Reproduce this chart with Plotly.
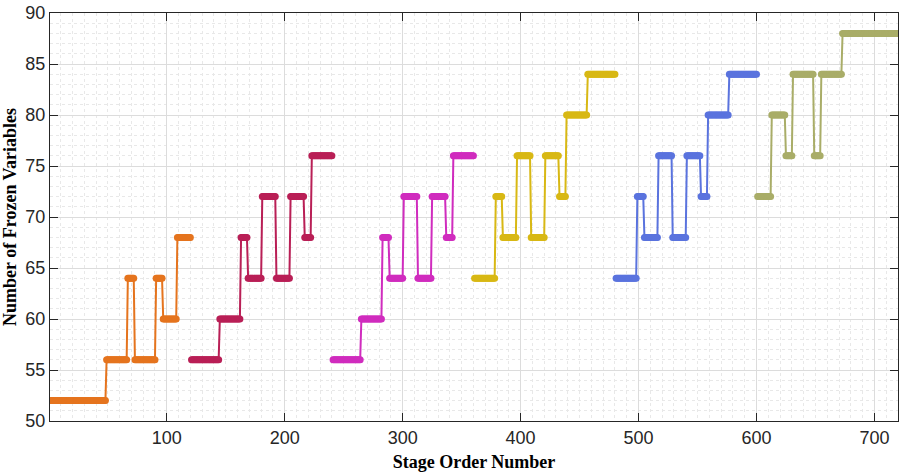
import numpy as np
import plotly.graph_objects as go

# Six groups of 120 stages each; every group is stored as runs of
# (number of stages, frozen-variable count).
group_colors = ["#E5741E", "#B91F56", "#D02CBE", "#D8B814", "#5A73DE", "#A9AD68"]

run_lengths = [
    [48, 18, 6, 18, 6, 12, 12],
    [24, 18, 6, 12, 12, 12, 12, 6, 18],
    [24, 18, 6, 12, 12, 12, 12, 6, 18],
    [18, 6, 12, 12, 12, 12, 6, 18, 24],
    [18, 6, 12, 12, 12, 12, 6, 18, 24],
    [12, 12, 6, 18, 6, 18, 48],
]
run_values = [
    [52, 56, 64, 56, 64, 60, 68],
    [56, 60, 68, 64, 72, 64, 72, 68, 76],
    [56, 60, 68, 64, 72, 64, 72, 68, 76],
    [64, 72, 68, 76, 68, 76, 72, 80, 84],
    [64, 72, 68, 76, 68, 76, 72, 80, 84],
    [72, 80, 76, 84, 76, 84, 88],
]

x_ticks = [100, 200, 300, 400, 500, 600, 700]
y_ticks = [50, 55, 60, 65, 70, 75, 80, 85, 90]

fig = go.Figure()
start = 1
for color, lengths, values in zip(group_colors, run_lengths, run_values):
    y = np.repeat(values, lengths)
    x = np.arange(start, start + len(y))
    start += len(y)
    fig.add_trace(go.Scatter(
        x=x, y=y, mode="lines+markers",
        line=dict(color=color, width=2),
        marker=dict(symbol="circle", size=7, color=color, line=dict(width=0)),
        showlegend=False, hoverinfo="x+y",
    ))

axis_common = dict(
    showline=True, linecolor="#262626", linewidth=1, mirror="ticks",
    ticks="inside", ticklen=8, tickwidth=1, tickcolor="#262626",
    showgrid=True, gridcolor="#dcdcdc", gridwidth=1, zeroline=False,
    ticklabeloverflow="allow",
    tickfont=dict(family="Liberation Sans, Arial, sans-serif", size=18, color="#262626"),
)

fig.update_xaxes(
    range=[1, 720], tickvals=x_ticks,
    minor=dict(dtick=10, tick0=0, showgrid=True, gridcolor="#e8e8e8", griddash="dot", gridwidth=1),
    title=dict(text="Stage Order Number", standoff=8,
               font=dict(family="Liberation Serif, Times New Roman, serif", size=18,
                         color="#000000", weight="bold")),
    **axis_common,
)
fig.update_yaxes(
    range=[50, 90], tickvals=y_ticks,
    minor=dict(dtick=1, tick0=50, showgrid=True, gridcolor="#e8e8e8", griddash="dot", gridwidth=1),
    title=dict(text="Number of Frozen Variables", standoff=5,
               font=dict(family="Liberation Serif, Times New Roman, serif", size=18,
                         color="#000000", weight="bold")),
    **axis_common,
)

fig.update_layout(
    width=902, height=475,
    margin=dict(l=50, r=3, t=9, b=54),
    paper_bgcolor="#ffffff", plot_bgcolor="#ffffff",
    showlegend=False,
)

fig.write_html("out.html")
